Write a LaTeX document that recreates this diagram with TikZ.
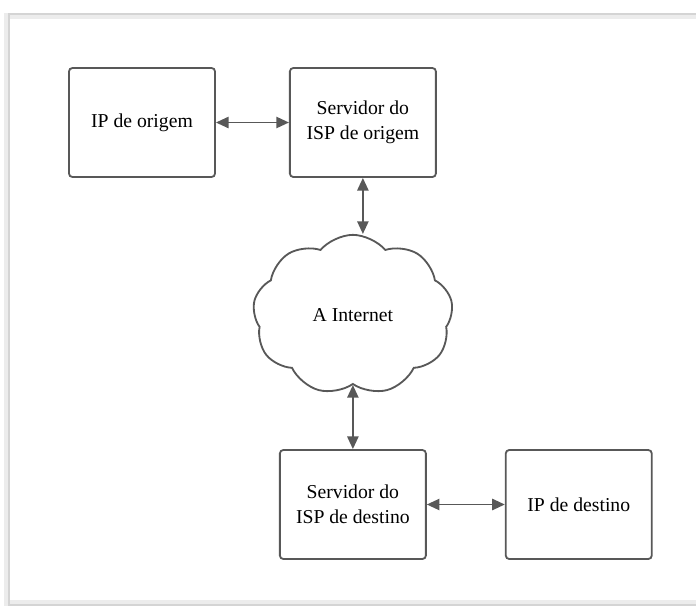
\documentclass[tikz,border=0pt]{standalone}
\usepackage{fontspec}
\setmainfont{Liberation Serif}
\usetikzlibrary{shapes.symbols, arrows.meta, positioning}
\definecolor{boxline}{RGB}{88,88,88}
\definecolor{framegray}{RGB}{212,212,212}
\definecolor{shadegray}{RGB}{236,236,236}

\begin{document}
\begin{tikzpicture}[
    x=0.025cm, y=-0.025cm,
    box/.style={rectangle, draw=boxline, line width=1.3pt, rounded corners=2.5pt, minimum width=3.65cm, minimum height=2.725cm, align=center, font=\fontsize{14}{18}\selectfont},
    net/.style={cloud, cloud puffs=9, cloud puff arc=100, draw=boxline, line width=1.3pt, minimum width=5cm, minimum height=4cm, font=\fontsize{14}{18}\selectfont},
    link/.style={{Triangle[length=9pt,width=8pt]}-{Triangle[length=9pt,width=8pt]}, draw=boxline, fill=boxline, line width=1.3pt}
]
    \useasboundingbox (0,0) rectangle (696,608);

    % Frame
    \draw[shadegray, line width=4pt] (710,16) -| (7,603) -- (710,603);
    \draw[framegray, line width=0.8pt] (710,14) -| (9,605) -- (710,605);

    % Nodes
    \node[box] (ipsrc) at (142,122.5) {IP de origem};
    \node[box, right=1.825cm of ipsrc] (ispsrc) {Servidor do\\ISP de origem};
    \node[net, below=1.4cm of ispsrc, xshift=-0.25cm] (inet) {A Internet};
    \node[box, below=1.6cm of inet, xshift=0cm] (ispdst) {Servidor do\\ISP de destino};
    \node[box, right=1.95cm of ispdst] (ipdst) {IP de destino};

    % Arrows
    \draw[link] (ipsrc) -- (ispsrc);
    \draw[link] (ispsrc.south) -- (ispsrc.south |- inet.north);
    \draw[link] (inet.south) -- (inet.south |- ispdst.north);
    \draw[link] (ispdst) -- (ipdst);
\end{tikzpicture}
\end{document}
